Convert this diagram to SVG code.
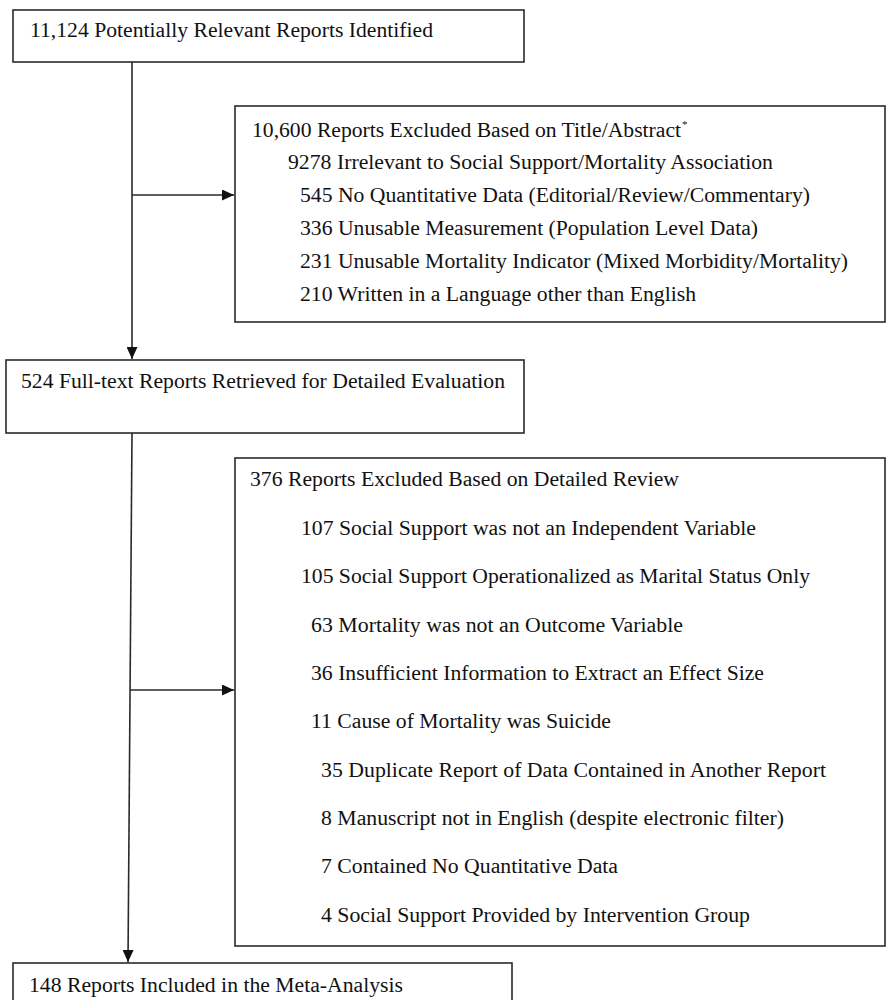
<svg xmlns="http://www.w3.org/2000/svg" width="887" height="1000" viewBox="0 0 887 1000" font-family="'Times New Roman', 'Liberation Serif', 'DejaVu Serif', serif">
<style>
.box{fill:#fff;stroke:#2a2a2a;stroke-width:1.6}
.t{font-size:20px;fill:#111}
.sup{font-size:11px;fill:#111}
.c{fill:none;stroke:#2a2a2a;stroke-width:1.6}
</style>
<defs>
<marker id="ah" markerUnits="userSpaceOnUse" markerWidth="13" markerHeight="11" refX="12" refY="5.5" orient="auto">
<path d="M0,0 L12,5.5 L0,11 Z" fill="#111"/>
</marker>
</defs>
<rect width="887" height="1000" fill="#fff"/>
<g id="connectors">
<line class="c" x1="132" y1="62" x2="132" y2="359" marker-end="url(#ah)"/>
<line class="c" x1="132" y1="195" x2="234" y2="195" marker-end="url(#ah)"/>
<line class="c" x1="132" y1="433" x2="128" y2="962" marker-end="url(#ah)"/>
<line class="c" x1="130" y1="690" x2="234" y2="690" marker-end="url(#ah)"/>
</g>
<g id="identified">
<rect class="box" x="13" y="10" width="511" height="52"/>
<text class="t" x="30" y="37" textLength="403" lengthAdjust="spacingAndGlyphs">11,124 Potentially Relevant Reports Identified</text>
</g>
<g id="excluded1">
<rect class="box" x="235" y="106" width="650" height="216"/>
<text class="t" x="252" y="137" textLength="429" lengthAdjust="spacingAndGlyphs">10,600 Reports Excluded Based on Title/Abstract</text>
<text class="sup" x="682" y="128">*</text>
<text class="t" x="288" y="169" textLength="485" lengthAdjust="spacingAndGlyphs">9278 Irrelevant to Social Support/Mortality Association</text>
<text class="t" x="300" y="202" textLength="510" lengthAdjust="spacingAndGlyphs">545 No Quantitative Data (Editorial/Review/Commentary)</text>
<text class="t" x="300" y="235" textLength="458" lengthAdjust="spacingAndGlyphs">336 Unusable Measurement (Population Level Data)</text>
<text class="t" x="300" y="268" textLength="548" lengthAdjust="spacingAndGlyphs">231 Unusable Mortality Indicator (Mixed Morbidity/Mortality)</text>
<text class="t" x="300" y="301" textLength="396" lengthAdjust="spacingAndGlyphs">210 Written in a Language other than English</text>
</g>
<g id="retrieved">
<rect class="box" x="6" y="360" width="518" height="73"/>
<text class="t" x="21" y="388" textLength="484" lengthAdjust="spacingAndGlyphs">524 Full-text Reports Retrieved for Detailed Evaluation</text>
</g>
<g id="excluded2">
<rect class="box" x="235" y="458" width="650" height="488"/>
<text class="t" x="250" y="486" textLength="429" lengthAdjust="spacingAndGlyphs">376 Reports Excluded Based on Detailed Review</text>
<text class="t" x="301" y="535" textLength="455" lengthAdjust="spacingAndGlyphs">107 Social Support was not an Independent Variable</text>
<text class="t" x="301" y="583" textLength="509" lengthAdjust="spacingAndGlyphs">105 Social Support Operationalized as Marital Status Only</text>
<text class="t" x="311" y="632" textLength="372" lengthAdjust="spacingAndGlyphs">63 Mortality was not an Outcome Variable</text>
<text class="t" x="311" y="680" textLength="453" lengthAdjust="spacingAndGlyphs">36 Insufficient Information to Extract an Effect Size</text>
<text class="t" x="311" y="728" textLength="300" lengthAdjust="spacingAndGlyphs">11 Cause of Mortality was Suicide</text>
<text class="t" x="321" y="777" textLength="505" lengthAdjust="spacingAndGlyphs">35 Duplicate Report of Data Contained in Another Report</text>
<text class="t" x="321" y="825" textLength="463" lengthAdjust="spacingAndGlyphs">8 Manuscript not in English (despite electronic filter)</text>
<text class="t" x="321" y="873" textLength="297" lengthAdjust="spacingAndGlyphs">7 Contained No Quantitative Data</text>
<text class="t" x="321" y="922" textLength="429" lengthAdjust="spacingAndGlyphs">4 Social Support Provided by Intervention Group</text>
</g>
<g id="included">
<rect class="box" x="13" y="963" width="499" height="50"/>
<text class="t" x="29" y="992" textLength="374" lengthAdjust="spacingAndGlyphs">148 Reports Included in the Meta-Analysis</text>
</g>
</svg>
